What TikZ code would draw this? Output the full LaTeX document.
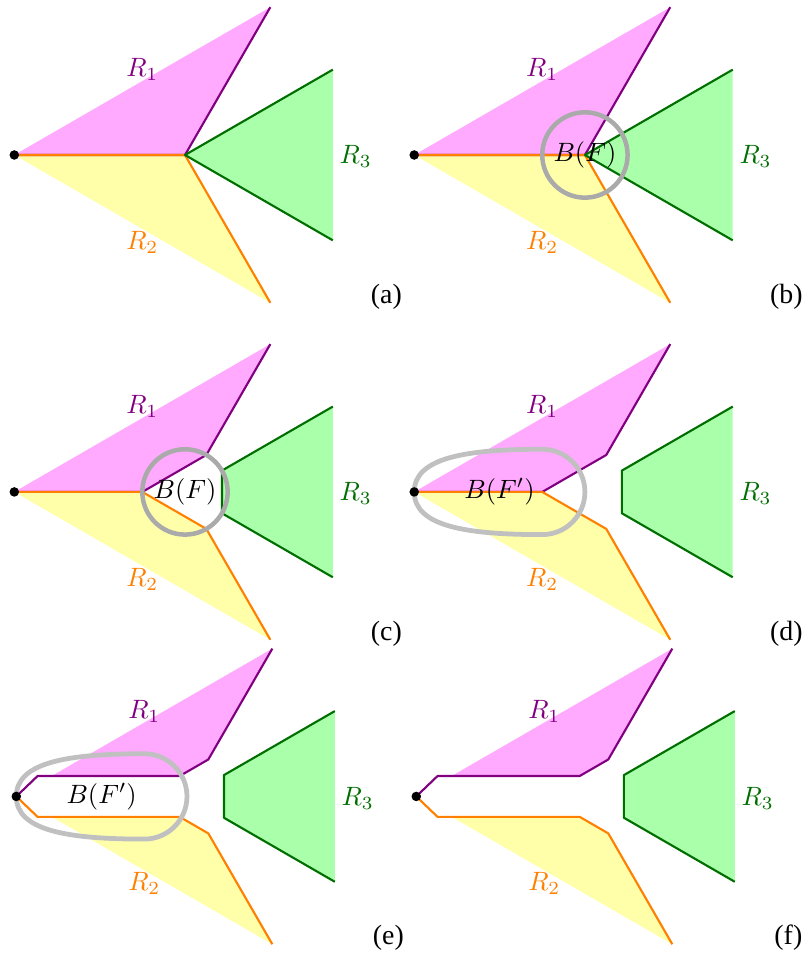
\documentclass[tikz,border=0pt]{standalone}
\usepackage[no-math]{fontspec}
\usepackage{xcolor}
\usepackage{tikz}
\usetikzlibrary{calc}
\newfontfamily\tagfont{Liberation Serif}
\definecolor{onefill}{RGB}{255, 170, 255}
\definecolor{twofill}{RGB}{255, 255, 170}
\definecolor{threefill}{RGB}{170, 255, 170}
\definecolor{oneline}{RGB}{128, 0, 128}
\definecolor{twoline}{RGB}{255, 128, 0}
\definecolor{threeline}{RGB}{0, 110, 0}
\definecolor{balldark}{RGB}{170, 170, 170}
\definecolor{balllight}{RGB}{192, 192, 192}
\tikzset{
    r1fill/.style={fill=onefill},
    r2fill/.style={fill=twofill},
    r3fill/.style={fill=threefill},
    r1line/.style={draw=oneline, thick, line join=round},
    r2line/.style={draw=twoline, thick, line join=round},
    r3line/.style={draw=threeline, thick, line join=round},
    r1text/.style={text=oneline},
    r2text/.style={text=twoline},
    r3text/.style={text=threeline},
    ball/.style={draw=balldark, line width=1.7pt},
    ballwide/.style={draw=balllight, line width=1.8pt},
    tag/.style={inner sep=1pt, font=\tagfont\fontsize{10.5}{12}\selectfont},
    vertex/.style={circle, fill=black, inner sep=0pt, minimum size=3.6pt}
}

% corner points of one panel
\newcommand{\basepoints}{%
    \coordinate (P) at (0,0);
    \coordinate (J) at (1,0);
    \coordinate (T1) at (1.5,0.866);
    \coordinate (T2) at (1.5,-0.866);
    \coordinate (U3) at (1.866,0.5);
    \coordinate (L3) at (1.866,-0.5);
    % where the ball around J cuts the regions
    \coordinate (K) at (0.75,0);
    \coordinate (C1) at (1.125,0.2165);
    \coordinate (C2) at (1.125,-0.2165);
    \coordinate (D1) at (1.2165,0.125);
    \coordinate (D2) at (1.2165,-0.125);
    % split of R1 and R2 along the segment
    \coordinate (A1) at (0.125,0.12);
    \coordinate (A2) at (0.125,-0.12);
    \coordinate (E1) at (0.208,0.12);
    \coordinate (E2) at (0.208,-0.12);
    \coordinate (B1) at (0.958,0.12);
    \coordinate (B2) at (0.958,-0.12);
}
\newcommand{\regionsfull}{%
    \fill[r1fill] (P) -- (T1) -- (J) -- cycle;
    \fill[r2fill] (P) -- (T2) -- (J) -- cycle;
    \fill[r3fill] (J) -- (U3) -- (L3) -- cycle;
    \draw[r1line] (P) -- (J) -- (T1);
    \draw[r2line] (P) -- (J) -- (T2);
    \draw[r3line] (U3) -- (J) -- (L3);
}
\newcommand{\regionscut}{%
    \fill[r1fill] (P) -- (T1) -- (C1) -- (K) -- cycle;
    \fill[r2fill] (P) -- (T2) -- (C2) -- (K) -- cycle;
    \fill[r3fill] (D1) -- (U3) -- (L3) -- (D2) -- cycle;
    \draw[r1line] (P) -- (K) -- (C1) -- (T1);
    \draw[r2line] (P) -- (K) -- (C2) -- (T2);
    \draw[r3line] (U3) -- (D1) -- (D2) -- (L3);
}
\newcommand{\regionssplit}{%
    \fill[r1fill] (E1) -- (T1) -- (C1) -- (B1) -- cycle;
    \fill[r2fill] (E2) -- (T2) -- (C2) -- (B2) -- cycle;
    \fill[r3fill] (D1) -- (U3) -- (L3) -- (D2) -- cycle;
    \draw[r1line] (P) -- (A1) -- (B1) -- (C1) -- (T1);
    \draw[r2line] (P) -- (A2) -- (B2) -- (C2) -- (T2);
    \draw[r3line] (U3) -- (D1) -- (D2) -- (L3);
}
\newcommand{\ballsegment}{%
    \draw[ballwide] (P) .. controls (0,0.2) and (0.3,0.25) .. (0.75,0.25)
        arc[start angle=90, end angle=-90, radius=0.25]
        .. controls (0.3,-0.25) and (0,-0.2) .. (P);
}
\newcommand{\regionlabels}[1]{%
    \node[r1text] (r1-#1) at (0.75,0.5) {$R_1$};
    \node[r2text] (r2-#1) at (0.75,-0.51) {$R_2$};
    \node[r3text] (r3-#1) at (2.0,-0.01) {$R_3$};
    \node[tag] (tag-#1) at (2.18,-0.83) {(#1)};
    \node[vertex] (src-#1) at (P) {};
}

\begin{document}
\begin{tikzpicture}[x=2.262cm, y=2.262cm]

    \useasboundingbox (-0.0838,-4.687) rectangle (4.626,0.908);

    % Panel (a)
    \begin{scope}
        \basepoints
        \regionsfull
        \regionlabels{a}
    \end{scope}

    % Panel (b)
    \begin{scope}[shift={(2.343,0)}]
        \basepoints
        \regionsfull
        \draw[ball] (J) circle (0.25);
        \node (ball-b) at (J) {$B(F)$};
        \regionlabels{b}
    \end{scope}

    % Panel (c)
    \begin{scope}[shift={(0,-1.974)}]
        \basepoints
        \regionscut
        \draw[ball] (J) circle (0.25);
        \node (ball-c) at (J) {$B(F)$};
        \regionlabels{c}
    \end{scope}

    % Panel (d)
    \begin{scope}[shift={(2.343,-1.974)}]
        \basepoints
        \regionscut
        \ballsegment
        \node (ball-d) at (0.5,0) {$B(F')$};
        \regionlabels{d}
    \end{scope}

    % Panel (e)
    \begin{scope}[shift={(0.0117,-3.758)}]
        \basepoints
        \regionssplit
        \ballsegment
        \node (ball-e) at (0.5,0) {$B(F')$};
        \regionlabels{e}
    \end{scope}

    % Panel (f)
    \begin{scope}[shift={(2.355,-3.758)}]
        \basepoints
        \regionssplit
        \regionlabels{f}
    \end{scope}

\end{tikzpicture}
\end{document}
